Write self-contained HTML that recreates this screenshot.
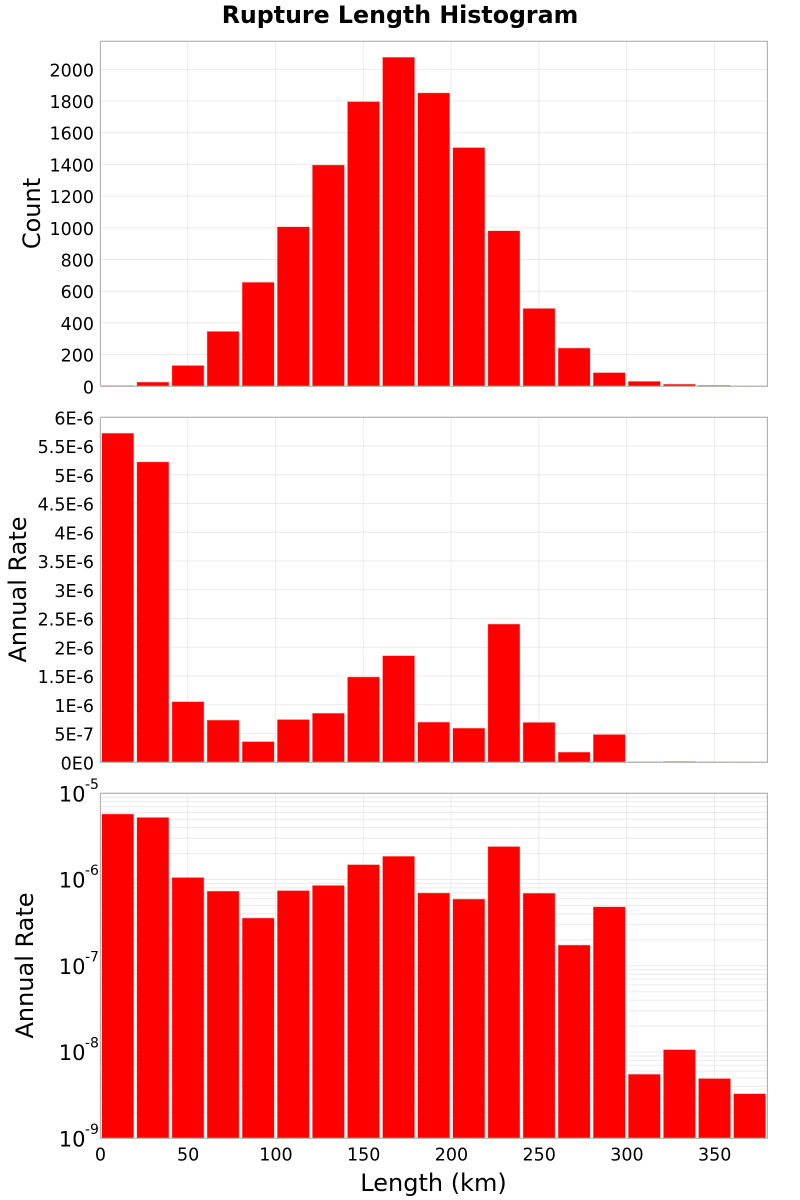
<!DOCTYPE html>
<html>
<head>
<meta charset="utf-8">
<style>
html,body{margin:0;padding:0;background:#fff;width:800px;height:1200px;overflow:hidden}
svg{display:block;font-family:"DejaVu Sans","Liberation Sans",sans-serif}
</style>
</head>
<body>
<svg id="chart" xmlns="http://www.w3.org/2000/svg" width="800" height="1200" viewBox="0 0 800 1200">
  <rect width="800" height="1200" fill="#fff"/>
  <text x="400" y="23" text-anchor="middle" font-size="23.7" font-weight="bold">Rupture Length Histogram</text>
  <text transform="translate(40,213.5) rotate(-90)" text-anchor="middle" font-size="24">Count</text>
  <text transform="translate(26,589.5) rotate(-90)" text-anchor="middle" font-size="24">Annual Rate</text>
  <text transform="translate(33,965.5) rotate(-90)" text-anchor="middle" font-size="24">Annual Rate</text>
  <text x="433.5" y="1191" text-anchor="middle" font-size="24">Length (km)</text>
</svg>
<script>
// Histogram data
var binStarts = [0,20,40,60,80,100,120,140,160,180,200,220,240,260,280,300,320,340,360];
var counts = [3,25,130,345,655,1005,1395,1795,2075,1850,1505,980,490,240,85,30,12,5,1];
var rates = [5.72e-6,5.22e-6,1.05e-6,7.3e-7,3.56e-7,7.4e-7,8.5e-7,1.48e-6,1.85e-6,6.95e-7,5.9e-7,2.4e-6,6.9e-7,1.73e-7,4.8e-7,5.5e-9,1.06e-8,4.9e-9,3.27e-9];
var binWidth = 20;
var xTicks = [0,50,100,150,200,250,300,350];
var countTicks = [0,200,400,600,800,1000,1200,1400,1600,1800,2000];
var rateTicks = [0,5e-7,1e-6,1.5e-6,2e-6,2.5e-6,3e-6,3.5e-6,4e-6,4.5e-6,5e-6,5.5e-6,6e-6];
var rateTickLabels = ["0E0","5E-7","1E-6","1.5E-6","2E-6","2.5E-6","3E-6","3.5E-6","4E-6","4.5E-6","5E-6","5.5E-6","6E-6"];
var logDecades = [-9,-8,-7,-6,-5];

var svg = document.getElementById('chart');
var NS = 'http://www.w3.org/2000/svg';
var xMax = 380, xLeft = 100.4, xRight = 767.4;
function xScale(v){ return xLeft + (xRight - xLeft) * v / xMax; }

function make(tag, attrs, parent){
  var el = document.createElementNS(NS, tag);
  for (var k in attrs) el.setAttribute(k, attrs[k]);
  (parent || svg).appendChild(el);
  return el;
}
function gridLine(g, x1, y1, x2, y2){
  var l = make('line', {x1:x1, y1:y1, x2:x2, y2:y2, stroke:'#ebebeb', 'stroke-width':1}, g);
  
  
}
function drawPanel(name, top, bottom, yScale, values, yTicks, tickLabels){
  var g = make('g', {});
  
  
  xTicks.forEach(function(t){
    if (t > 0) gridLine(g, xScale(t) - 0.4, top, xScale(t) - 0.4, bottom);
  });
  yTicks.forEach(function(t){
    gridLine(g, xLeft, yScale(t), xRight, yScale(t));
  });
  values.forEach(function(v, i){
    var x0 = xScale(binStarts[i] + 1) - 0.2, x1 = xScale(binStarts[i] + binWidth - 1) - 0.2;
    var y = Math.min(yScale(v), bottom);
    var bar = make('rect', {x:x0, y:y, width:x1 - x0, height:Math.max(bottom - y, 0), fill:'#ff0000', stroke:'rgba(255,0,0,0.3)', 'stroke-width':1}, g);
    
    
  });
  var frame = make('rect', {x:xLeft, y:top, width:xRight - xLeft, height:bottom - top, fill:'none', stroke:'#b4b4b4', 'stroke-width':1.2}, g);
  
  
  if (tickLabels) {
    yTicks.forEach(function(t, i){
      var lab = make('text', {x:94, y:yScale(t) + 7, 'text-anchor':'end', 'font-size':17.5}, g);
      
      
      lab.textContent = tickLabels[i];
    });
  }
  return g;
}

// Count panel
var countTop = 41.3, countBottom = 386.3, countMax = 2177;
function countY(v){ return countBottom - (countBottom - countTop) * v / countMax; }
drawPanel('count', countTop, countBottom, countY, counts, countTicks, countTicks.map(String));

// Linear rate panel
var rateTop = 417.3, rateBottom = 762.3, rateMax = 6e-6;
function rateY(v){ return rateBottom - (rateBottom - rateTop) * v / rateMax; }
drawPanel('rate', rateTop, rateBottom, rateY, rates, rateTicks, rateTickLabels);

// Log rate panel
var logTop = 793.3, logBottom = 1138.3, logMin = -9, logMax = -5;
function logY(v){ return logBottom - (logBottom - logTop) * (Math.log10(v) - logMin) / (logMax - logMin); }
var logGridValues = [];
logDecades.forEach(function(d){
  [1,2,3,4,5,6,7,8,9].forEach(function(m){
    if (d < logMax || m === 1) logGridValues.push(m * Math.pow(10, d));
  });
});
var logPanel = drawPanel('log-rate', logTop, logBottom, logY, rates, logGridValues, null);
logDecades.forEach(function(d){
  var y = logY(Math.pow(10, d));
  var base = make('text', {x:85.5, y:y + 8, 'text-anchor':'end', 'font-size':21}, logPanel);
  
  
  base.textContent = '10';
  var sup = make('text', {x:85, y:y - 4.5, 'text-anchor':'start', 'font-size':14}, logPanel);
  
  
  sup.textContent = String(d);
});

// Shared x tick labels
xTicks.forEach(function(t){
  var lab = make('text', {x:xScale(t), y:1160.5, 'text-anchor':'middle', 'font-size':17.5});
  
  
  lab.textContent = String(t);
});
</script>
</body>
</html>
